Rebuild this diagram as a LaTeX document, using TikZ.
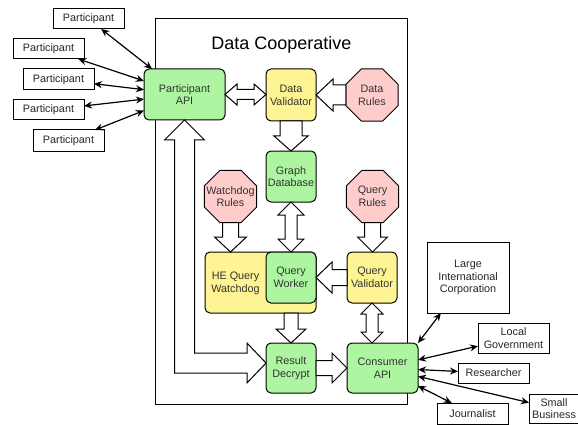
\documentclass[tikz,border=0pt]{standalone}
\usepackage{fontspec}
\setmainfont{Liberation Sans}
\usetikzlibrary{calc,shapes.geometric,arrows.meta}
\definecolor{gfill}{HTML}{ADF5A0}
\definecolor{yfill}{HTML}{FFF493}
\definecolor{pfill}{HTML}{FFCCCC}
\definecolor{tgray}{HTML}{333333}
\newcommand{\blkarrow}[5]{%
  \path (#1) coordinate (ba) (#2) coordinate (bb);
  \path ($(bb)!#5!(ba)$) coordinate (bh);
  \draw[blk] ($(ba)!#3!90:(bb)$) -- ($(bh)!#3!90:(bb)$) -- ($(bh)!#4!90:(bb)$) -- (bb)
    -- ($(bh)!#4!-90:(bb)$) -- ($(bh)!#3!-90:(bb)$) -- ($(ba)!#3!-90:(bb)$) -- cycle;
}
\newcommand{\dblkarrow}[5]{%
  \path (#1) coordinate (ba) (#2) coordinate (bb);
  \path ($(bb)!#5!(ba)$) coordinate (bh) ($(ba)!#5!(bb)$) coordinate (bg);
  \draw[blk] (ba) -- ($(bg)!#4!90:(bb)$) -- ($(bg)!#3!90:(bb)$) -- ($(bh)!#3!90:(bb)$)
    -- ($(bh)!#4!90:(bb)$) -- (bb) -- ($(bh)!#4!-90:(bb)$) -- ($(bh)!#3!-90:(bb)$)
    -- ($(bg)!#3!-90:(bb)$) -- ($(bg)!#4!-90:(bb)$) -- cycle;
}
\tikzset{
  txt/.style={font=\fontsize{10.8}{12.7}\selectfont, text=tgray, align=center},
  rbox/.style={txt, draw=black, line width=1pt, rounded corners=5pt, inner sep=0pt, outer sep=0pt},
  gbox/.style={rbox, fill=gfill},
  ybox/.style={rbox, fill=yfill},
  octo/.style={regular polygon, regular polygon sides=8, minimum size=56.3pt, inner sep=0pt,
    outer sep=0pt, draw=black, line width=1pt, fill=pfill},
  lbl/.style={txt},
  ext/.style={txt, text=black!85, draw=black, line width=1pt, inner sep=0pt, outer sep=0pt, fill=white},
  blk/.style={draw=black, fill=white, line width=1pt, line join=miter},
  thin/.style={line width=1.2pt, {Stealth[length=8pt,width=7pt]}-{Stealth[length=8pt,width=7pt]}},
}
\begin{document}
\begin{tikzpicture}[x=1pt,y=-1pt]
\useasboundingbox (0,0) rectangle (578,425);
\fill[white] (0,0) rectangle (578,425);
% main container
\draw[line width=1pt] (155,19) rectangle (407,404);
\node[font=\fontsize{18}{21}\selectfont, anchor=base] (title) at (281.5,50) {Data Cooperative};

% inner nodes
\node[gbox, minimum width=81pt, minimum height=51pt] (pa) at (184.5,94.5) {Participant\\API};
\node[ybox, minimum width=50pt, minimum height=52pt] (dv) at (291,95) {Data\\Validator};
\node[octo, label={[lbl]center:Data\\Rules}] (dr) at (372,95) {};
\node[gbox, minimum width=50pt, minimum height=51pt] (gd) at (291,176.5) {Graph\\Database};
\node[octo, label={[lbl]center:Watchdog\\Rules}] (wr) at (230.5,196.5) {};
\node[octo, label={[lbl]center:Query\\Rules}] (qr) at (372.5,196.5) {};
\node[ybox, minimum width=111pt, minimum height=61pt] (hw) at (260.5,282.5) {};
\node[txt] (hwt) at (235.5,283) {HE Query\\Watchdog};
\node[gbox, minimum width=50pt, minimum height=51pt] (qw) at (291,277.5) {Query\\Worker};
\node[ybox, minimum width=50pt, minimum height=51pt] (qv) at (372,277.5) {Query\\Validator};
\node[gbox, minimum width=50pt, minimum height=50pt] (rd) at (291,368) {Result\\Decrypt};
\node[gbox, minimum width=71pt, minimum height=50pt] (ca) at (382.5,368) {Consumer\\API};

% block arrows
\dblkarrow{pa.east}{pa.east -| dv.west}{5pt}{10.5pt}{12pt}
\blkarrow{dr.west}{dr.west -| dv.east}{10pt}{16pt}{17pt}
\blkarrow{dv.south}{gd.north}{11pt}{17pt}{15pt}
\dblkarrow{gd.south}{qw.north}{6pt}{13pt}{13pt}
\blkarrow{wr.south}{wr.south |- hw.north}{8pt}{16pt}{15pt}
\blkarrow{qr.south}{qr.south |- qv.north}{8pt}{15pt}{15pt}
\blkarrow{qv.west}{qv.west -| qw.east}{8pt}{15.5pt}{16pt}
\blkarrow{rd.north |- hw.south}{rd.north}{7pt}{15pt}{14pt}
\dblkarrow{qv.south}{qv.south |- ca.north}{6pt}{11pt}{11pt}
\blkarrow{rd.east}{rd.east -| ca.west}{7.5pt}{15pt}{15pt}
% L-shaped double arrow between Participant API and Result Decrypt
\coordinate (lt) at (pa.south);
\coordinate (lr) at ($(rd.west)+(0,-5)$);
\draw[blk] (lt) -- ($(lt)+(20,20)$) -- ($(lt)+(10,20)$) -- ($(lt |- lr)+(10,-10)$)
  -- ($(lr)+(-19,-10)$) -- ($(lr)+(-19,-20)$) -- (lr) -- ($(lr)+(-19,20)$)
  -- ($(lr)+(-19,10)$) -- ($(lt |- lr)+(-10,10)$) -- ($(lt)+(-10,20)$) -- ($(lt)+(-20,20)$) -- cycle;

% participants
\node[ext, minimum width=71pt, minimum height=20pt] (p1) at (88.5,19) {Participant};
\node[ext, minimum width=71pt, minimum height=20pt] (p2) at (48.5,49) {Participant};
\node[ext, minimum width=71pt, minimum height=21pt] (p3) at (58.5,79.5) {Participant};
\node[ext, minimum width=71pt, minimum height=20pt] (p4) at (48.5,110) {Participant};
\node[ext, minimum width=71pt, minimum height=21pt] (p5) at (68.5,140.5) {Participant};
\foreach \p in {p1,p2,p3,p4,p5} \draw[thin] (\p) -- (pa);

% consumers
\node[ext, minimum width=82pt, minimum height=71pt] (lic) at (468,277.5) {Large\\International\\Corporation};
\node[ext, minimum width=71pt, minimum height=30pt] (lg) at (513.5,338) {Local\\Government};
\node[ext, minimum width=71pt, minimum height=20pt] (rs) at (493.5,373) {Researcher};
\node[ext, minimum width=50pt, minimum height=29pt] (sb) at (554,408.5) {Small\\Business};
\node[ext, minimum width=71pt, minimum height=21pt] (jo) at (472.5,413.5) {Journalist};
\draw[thin] (ca.north east) -- (lic);
\draw[thin] (ca) -- (lg);
\draw[thin] (ca) -- (rs);
\draw[thin] (ca) -- (sb);
\draw[thin] (ca) -- (jo);
\end{tikzpicture}
\end{document}
